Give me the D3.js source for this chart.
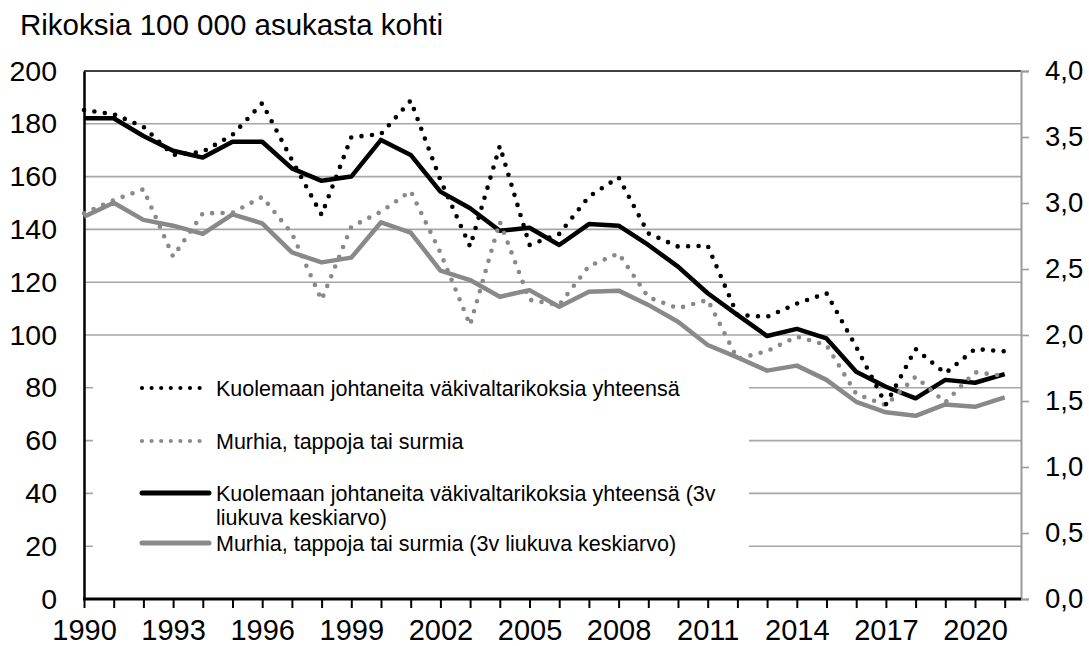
<!DOCTYPE html>
<html><head><meta charset="utf-8">
<script src="https://cdn.jsdelivr.net/npm/d3@7"></script>
<style>
html,body{margin:0;padding:0;background:#fff;}
svg text{font-family:"Liberation Sans",Arial,sans-serif;fill:#000;}
</style></head>
<body><svg id="c" width="1089" height="646"></svg>
<script>
const years = [1990,1991,1992,1993,1994,1995,1996,1997,1998,1999,2000,2001,2002,2003,2004,2005,2006,2007,2008,2009,2010,2011,2012,2013,2014,2015,2016,2017,2018,2019,2020,2021];
const totalDeaths = [185.2,183.6,178.9,168.2,169.4,175.8,187.8,166.3,145.5,174.9,176.1,188.8,158.7,133.5,171.6,134.1,138.3,152.4,159.7,138.5,133.5,133.8,107.6,106.9,111.9,115.8,95.5,73.7,94.7,85.5,94.7,93.8];
const murders = [146.1,151.1,155.2,129.7,146.1,146.3,152.3,138.5,113.3,141.0,146.7,154.5,131.2,103.8,142.9,113.3,111.4,126.1,130.9,114.3,110.1,113.3,91.0,93.9,99.4,96.2,77.7,73.4,84.2,74.5,85.9,84.5];
const totalAvg3 = [182.1,182.1,175.4,169.8,167.2,173.2,173.2,163.1,158.4,160.0,173.9,168.2,154.3,148.0,139.5,140.6,134.1,142.0,141.4,134.1,125.9,115.8,107.6,99.6,102.3,98.7,86.1,80.4,76.0,83.0,81.9,85.2];
const murdersAvg3 = [144.8,150.1,143.6,141.4,138.3,145.7,142.3,131.3,127.5,129.3,142.7,138.8,124.4,120.8,114.5,117.0,110.7,116.4,116.8,111.4,105.0,96.2,91.5,86.5,88.4,83.0,74.7,70.7,69.4,73.7,72.8,76.4];
const leftTicks = [0,20,40,60,80,100,120,140,160,180,200];
const rightTicks = [0,0.5,1,1.5,2,2.5,3,3.5,4];
const xLabelYears = [1990,1993,1996,1999,2002,2005,2008,2011,2014,2017,2020];
const titleText = "Rikoksia 100 000 asukasta kohti";
const seriesNames = [
  ["Kuolemaan johtaneita väkivaltarikoksia yhteensä"],
  ["Murhia, tappoja tai surmia"],
  ["Kuolemaan johtaneita väkivaltarikoksia yhteensä (3v", "liukuva keskiarvo)"],
  ["Murhia, tappoja tai surmia (3v liukuva keskiarvo)"]
];

const svg = d3.select("#c");
const L = 84, R = 1021, T = 71, B = 599;
const x = d3.scaleLinear().domain([1990, 2021]).range([L, 1004.7]);
const y = d3.scaleLinear().domain([0, 200]).range([B, T]);
const y2 = d3.scaleLinear().domain([0, 4]).range([B, T]);

const black = "#000", gray = "#898989", grid = "#a6a6a6";
const FONT = "Liberation Sans, Arial, sans-serif";

// title
svg.append("text").attr("x", 20).attr("y", 35).attr("font-size", 29.5).text(titleText);

// gridlines
svg.append("g").selectAll("line").data(leftTicks.filter(d => d > 0 && d < 200)).join("line")
  .attr("x1", L).attr("x2", R).attr("y1", d => y(d)).attr("y2", d => y(d))
  .attr("stroke", grid).attr("stroke-width", 1.6);

// top border
svg.append("line").attr("x1", L).attr("x2", R).attr("y1", T).attr("y2", T)
  .attr("stroke", "#404040").attr("stroke-width", 2);

// left axis
const gl = svg.append("g").attr("transform", `translate(${L},0)`)
  .call(d3.axisLeft(y).tickValues(leftTicks).tickSize(0).tickPadding(27).tickFormat(d3.format("d")));
gl.select(".domain").attr("stroke", black).attr("stroke-width", 2.5);
gl.selectAll("text").attr("font-size", 28.5).attr("font-family", FONT).attr("fill", "#000");

// right axis
const gr = svg.append("g").attr("transform", `translate(${R},0)`)
  .call(d3.axisRight(y2).tickValues(rightTicks).tickSize(8).tickPadding(16).tickFormat(d => d3.format(".1f")(d).replace(".", ",")));
gr.select(".domain").attr("stroke", "#9a9a9a").attr("stroke-width", 2);
gr.selectAll(".tick line").attr("stroke", "#9a9a9a").attr("stroke-width", 1.6);
gr.selectAll("text").attr("font-size", 27.5).attr("font-family", FONT).attr("fill", "#000");

// bottom axis
const gb = svg.append("g").attr("transform", `translate(0,${B})`)
  .call(d3.axisBottom(x).tickValues(years).tickSize(9).tickPadding(11)
    .tickFormat(d => xLabelYears.includes(d) ? String(d) : ""));
gb.select(".domain").remove();
gb.selectAll(".tick line").attr("stroke", black).attr("stroke-width", 2);
gb.selectAll("text").attr("font-size", 29).attr("font-family", FONT).attr("fill", "#000");
svg.append("line").attr("x1", L - 1).attr("x2", R).attr("y1", B).attr("y2", B)
  .attr("stroke", black).attr("stroke-width", 3);

// legend box (covers gridlines)
svg.append("rect").attr("x", 93).attr("y", 366).attr("width", 656).attr("height", 204).attr("fill", "#fff");

// series
const line = d3.line().x((d, i) => x(years[i])).y(d => y(d));
const series = [
  {data: totalDeaths, color: black, dotted: true},
  {data: murders, color: gray, dotted: true},
  {data: totalAvg3, color: black, dotted: false},
  {data: murdersAvg3, color: gray, dotted: false}
];
const drawOrder = [3, 2, 1, 0];
drawOrder.forEach(k => {
  const s = series[k];
  const p = svg.append("path").attr("d", line(s.data)).attr("fill", "none")
    .attr("stroke", s.color).attr("stroke-linejoin", "round");
  if (s.dotted) p.attr("stroke-width", 4.6).attr("stroke-linecap", "round").attr("stroke-dasharray", "0 10.5");
  else p.attr("stroke-width", 4.5).attr("stroke-linecap", "butt");
});

// legend
const rowsY = [388, 441, 493, 543];
series.forEach((s, i) => {
  const yy = rowsY[i];
  const l = svg.append("line").attr("x1", 142).attr("x2", 209).attr("y1", yy).attr("y2", yy)
    .attr("stroke", s.color);
  if (s.dotted) l.attr("stroke-width", 4.2).attr("stroke-linecap", "round").attr("stroke-dasharray", "0 9.6");
  else l.attr("stroke-width", 5).attr("stroke-linecap", "round");
  const t = svg.append("text").attr("x", 216).attr("y", yy + 7.5).attr("font-size", 21.5);
  seriesNames[i].forEach((ln, j) => {
    t.append("tspan").attr("x", 216).attr("dy", j === 0 ? 0 : 24).text(ln);
  });
});
</script></body></html>
